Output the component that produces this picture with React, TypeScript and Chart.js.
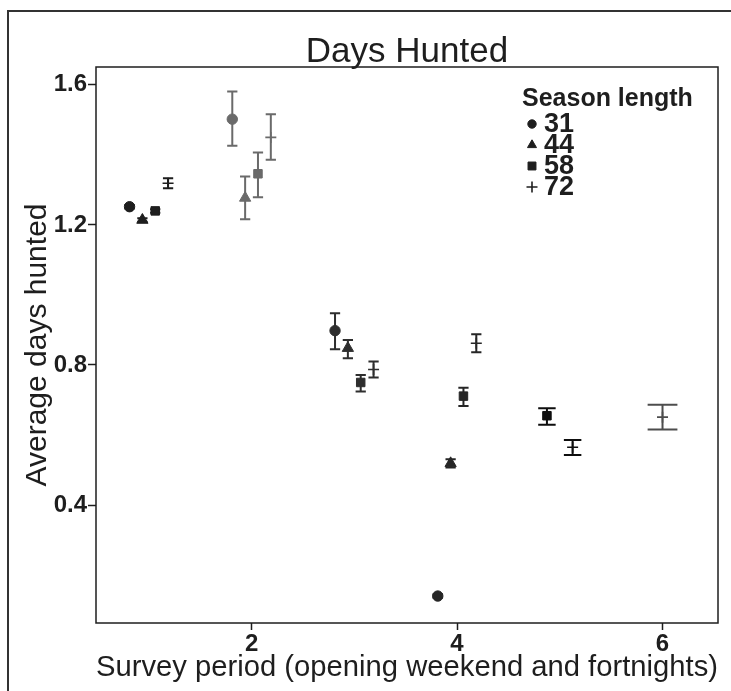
import React, { useEffect, useRef } from "react";
import { Chart, registerables } from "chart.js";
import { drawPoint } from "chart.js/helpers";

Chart.register(...registerables);

// ---- data ----
const seasonLengths = ["31", "44", "58", "72"];
const pointStyles = ["circle", "triangle", "rect", "cross"];

const periods31 = [1, 2, 3, 4];
const mean31 = [1.252, 1.502, 0.898, 0.14];
const lower31 = [1.247, 1.426, 0.845, 0.135];
const upper31 = [1.257, 1.581, 0.948, 0.145];

const periods44 = [1, 2, 3, 4];
const mean44 = [1.214, 1.277, 0.848, 0.519];
const lower44 = [1.209, 1.216, 0.819, 0.507];
const upper44 = [1.219, 1.338, 0.871, 0.531];

const periods58 = [1, 2, 3, 4, 5];
const mean58 = [1.24, 1.346, 0.75, 0.711, 0.655];
const lower58 = [1.235, 1.279, 0.724, 0.683, 0.629];
const upper58 = [1.245, 1.407, 0.771, 0.735, 0.676];

const periods72 = [1, 2, 3, 4, 5, 6];
const mean72 = [1.319, 1.45, 0.787, 0.862, 0.565, 0.651];
const lower72 = [1.305, 1.386, 0.764, 0.836, 0.543, 0.616];
const upper72 = [1.333, 1.516, 0.81, 0.888, 0.586, 0.686];

const xTicks = [2, 4, 6];
const yTicks = [0.4, 0.8, 1.2, 1.6];

const chartTitle = "Days Hunted";
const xTitle = "Survey period (opening weekend and fortnights)";
const yTitle = "Average days hunted";
const legendTitle = "Season length";

// ---- styles ----
const FONT = "'Liberation Sans', Arial, Helvetica, sans-serif";
const INK = "#1e1e1e";
const periodShade = ["#1e1e1e", "#6a6a6a", "#2e2e2e", "#262626", "#0e0e0e", "#4d4d4d"];
const DODGE = 0.5;

const seriesPeriods = [periods31, periods44, periods58, periods72];
const seriesMean = [mean31, mean44, mean58, mean72];
const seriesLower = [lower31, lower44, lower58, lower72];
const seriesUpper = [upper31, upper44, upper58, upper72];

function buildDatasets() {
  return seasonLengths.map((label, si) => {
    const data = seriesPeriods[si].map((p, j) => {
      const present = seriesPeriods
        .map((arr, k) => (arr.includes(p) ? k : -1))
        .filter((k) => k >= 0);
      const n = present.length;
      const idx = present.indexOf(si);
      const offset = (idx - (n - 1) / 2) * (DODGE / n);
      return {
        x: p + offset,
        y: seriesMean[si][j],
        lo: seriesLower[si][j],
        hi: seriesUpper[si][j],
        p,
        n,
      };
    });
    const style = pointStyles[si];
    const shade = (c: any) => periodShade[(c.raw ? c.raw.p : 1) - 1];
    return {
      label,
      data,
      pointStyle: style,
      pointRadius: style === "circle" ? 5.2 : style === "rect" ? 6 : style === "triangle" ? 6.5 : 5.5,
      pointBackgroundColor: shade,
      pointBorderColor: shade,
      pointBorderWidth: style === "cross" ? 1.6 : 1,
      showLine: false,
    };
  });
}

const errorBarPlugin = {
  id: "errorBars",
  beforeDatasetsDraw(chart: any) {
    const ctx = chart.ctx;
    const xs = chart.scales.x;
    const ys = chart.scales.y;
    chart.data.datasets.forEach((ds: any) => {
      ds.data.forEach((pt: any) => {
        const x = xs.getPixelForValue(pt.x);
        const yl = ys.getPixelForValue(pt.lo);
        const yh = ys.getPixelForValue(pt.hi);
        const capUnits = 0.29 / Math.pow(pt.n, 0.77);
        const half = Math.abs(xs.getPixelForValue(pt.x + capUnits / 2) - x);
        ctx.save();
        ctx.strokeStyle = periodShade[pt.p - 1];
        ctx.lineWidth = 2;
        ctx.beginPath();
        ctx.moveTo(x, yl);
        ctx.lineTo(x, yh);
        ctx.moveTo(x - half, yl);
        ctx.lineTo(x + half, yl);
        ctx.moveTo(x - half, yh);
        ctx.lineTo(x + half, yh);
        ctx.stroke();
        ctx.restore();
      });
    });
  },
};

const framePlugin = {
  id: "frameTitleLegend",
  afterDraw(chart: any) {
    const ctx = chart.ctx;
    const a = chart.chartArea;
    ctx.save();
    // panel border
    ctx.strokeStyle = INK;
    ctx.lineWidth = 1.5;
    ctx.strokeRect(a.left, a.top, a.right - a.left, a.bottom - a.top);

    // title
    ctx.fillStyle = INK;
    ctx.font = `35px ${FONT}`;
    ctx.textAlign = "center";
    ctx.textBaseline = "alphabetic";
    ctx.fillText(chartTitle, (a.left + a.right) / 2, 62);

    // legend
    ctx.textAlign = "left";
    ctx.font = `bold 25px ${FONT}`;
    ctx.fillText(legendTitle, 522, 106);
    const rows = [124, 145, 166, 187];
    const radii = [4.2, 5.2, 5.6, 5.5];
    seasonLengths.forEach((lab, i) => {
      ctx.fillStyle = INK;
      ctx.strokeStyle = INK;
      ctx.lineWidth = pointStyles[i] === "cross" ? 1.6 : 1;
      drawPoint(
        ctx,
        { pointStyle: pointStyles[i], radius: radii[i], rotation: 0, borderWidth: ctx.lineWidth } as any,
        532,
        rows[i]
      );
      ctx.fillStyle = INK;
      ctx.font = `bold 27px ${FONT}`;
      ctx.textBaseline = "middle";
      ctx.fillText(lab, 544, rows[i] + 1);
    });
    ctx.restore();
  },
};

export default function App() {
  const canvasRef = useRef<HTMLCanvasElement | null>(null);

  useEffect(() => {
    if (!canvasRef.current) return;
    const chart = new Chart(canvasRef.current, {
      type: "scatter",
      data: { datasets: buildDatasets() as any },
      options: {
        animation: false,
        responsive: false,
        devicePixelRatio: 1,
        layout: { padding: { left: 0, top: 67, right: 13, bottom: 0 } },
        plugins: {
          legend: { display: false },
          tooltip: { enabled: false },
          title: { display: false },
        },
        scales: {
          x: {
            type: "linear",
            min: 0.486,
            max: 6.54,
            afterBuildTicks: (s: any) => {
              s.ticks = xTicks.map((v) => ({ value: v }));
            },
            afterFit: (s: any) => {
              s.height = 68;
            },
            border: { display: false },
            grid: {
              drawOnChartArea: false,
              drawTicks: true,
              tickLength: 7,
              tickColor: INK,
              tickWidth: 1.5,
            },
            ticks: {
              color: INK,
              font: { family: FONT, size: 24, weight: "bold" },
              padding: 0,
              maxRotation: 0,
              callback: (v: any) => String(v),
            },
            title: {
              display: true,
              text: xTitle,
              color: INK,
              font: { family: FONT, size: 30 },
              padding: { top: 0, bottom: 5 },
            },
          },
          y: {
            type: "linear",
            min: 0.063,
            max: 1.651,
            afterBuildTicks: (s: any) => {
              s.ticks = yTicks.map((v) => ({ value: v }));
            },
            afterFit: (s: any) => {
              s.width = 96;
            },
            border: { display: false },
            grid: {
              drawOnChartArea: false,
              drawTicks: true,
              tickLength: 8,
              tickColor: INK,
              tickWidth: 1.5,
            },
            ticks: {
              color: INK,
              font: { family: FONT, size: 24, weight: "bold" },
              padding: 1,
              callback: (v: any) => Number(v).toFixed(1),
            },
            title: {
              display: true,
              text: yTitle,
              color: INK,
              font: { family: FONT, size: 30 },
              padding: { top: 20, bottom: 0 },
            },
          },
        },
      },
      plugins: [errorBarPlugin, framePlugin],
    });
    return () => chart.destroy();
  }, []);

  return (
    <div
      style={{
        position: "fixed",
        left: 0,
        top: 0,
        width: 731,
        height: 691,
        background: "#fff",
        overflow: "hidden",
      }}
    >
      <canvas ref={canvasRef} width={731} height={691} style={{ display: "block", width: 731, height: 691 }} />
      <div
        style={{
          position: "absolute",
          left: 7,
          top: 10,
          width: 730,
          height: 700,
          borderTop: "2px solid #333",
          borderLeft: "2px solid #333",
          pointerEvents: "none",
        }}
      />
    </div>
  );
}
